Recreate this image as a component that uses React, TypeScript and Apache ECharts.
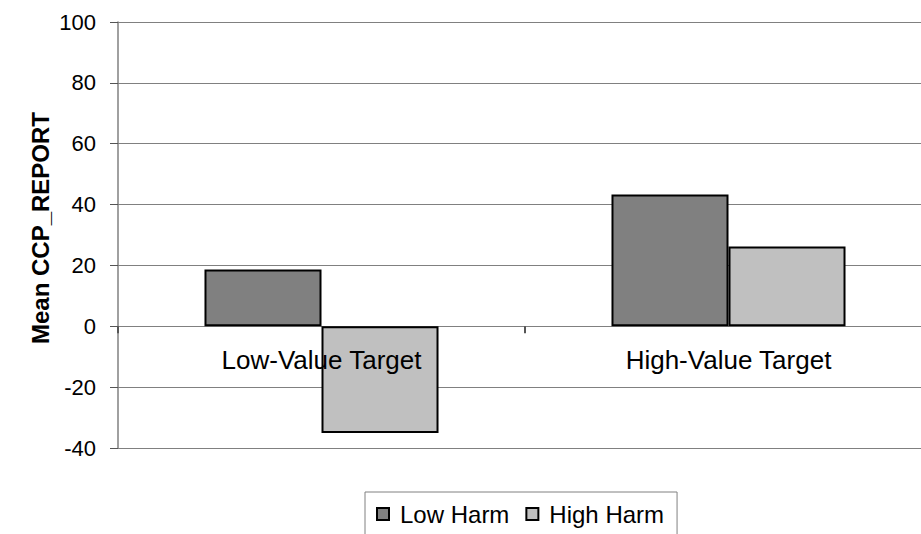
import React, { useEffect, useRef } from "react";
import * as echarts from "echarts";

const categories = ["Low-Value Target", "High-Value Target"];
const seriesNames = ["Low Harm", "High Harm"];
const lowHarm = [18.7, 43.3];
const highHarm = [-35.1, 26.2];
const yTicks = { min: -40, max: 100, interval: 20 };
const yTitle = "Mean CCP_REPORT";

const FONT = "'Liberation Sans', Arial, Helvetica, sans-serif";

export default function App() {
  const ref = useRef<HTMLDivElement>(null);

  useEffect(() => {
    if (!ref.current) return;
    const chart = echarts.init(ref.current, undefined, { renderer: "svg" });
    const barStyle = (color: string) => ({
      color,
      borderColor: "#000000",
      borderWidth: 2,
    });
    chart.setOption({
      animation: false,
      backgroundColor: "#ffffff",
      textStyle: { fontFamily: FONT, color: "#000000" },
      grid: {
        left: 118,
        right: -11,
        top: 22,
        bottom: 86,
        containLabel: false,
        outerBoundsMode: "none",
      },
      legend: {
        left: 365,
        top: 492,
        orient: "horizontal",
        selectedMode: false,
        icon: "rect",
        itemWidth: 12,
        itemHeight: 12,
        itemGap: 16,
        padding: [10, 13, 40, 11],
        borderColor: "#808080",
        borderWidth: 1,
        backgroundColor: "#ffffff",
        textStyle: {
          fontFamily: FONT,
          fontSize: 24,
          color: "#000000",
          padding: [0, 0, 0, 6],
        },
        data: seriesNames,
      },
      xAxis: {
        type: "category",
        data: categories,
        axisLine: { onZero: true, lineStyle: { color: "#808080", width: 1 } },
        axisTick: { show: true, length: 7, lineStyle: { color: "#555555", width: 2 } },
        axisLabel: { show: false },
        splitLine: { show: false },
      },
      yAxis: {
        type: "value",
        min: yTicks.min,
        max: yTicks.max,
        interval: yTicks.interval,
        name: yTitle,
        nameLocation: "middle",
        nameGap: 66,
        nameMoveOverlap: false,
        nameRotate: 90,
        nameTextStyle: {
          fontFamily: FONT,
          fontSize: 24,
          fontWeight: "bold",
          color: "#000000",
          padding: [0, 0, 0, 14],
        },
        axisLine: { show: true, lineStyle: { color: "#808080", width: 1.5 } },
        axisTick: { show: true, length: 8, lineStyle: { color: "#555555", width: 1 } },
        axisLabel: { fontFamily: FONT, fontSize: 22, color: "#000000", margin: 22 },
        splitLine: { show: true, lineStyle: { color: "#808080", width: 1 } },
      },
      series: [
        {
          name: seriesNames[0],
          type: "bar",
          data: lowHarm,
          barGap: "0%",
          barCategoryGap: "42.5%",
          itemStyle: barStyle("#808080"),
        },
        {
          name: seriesNames[1],
          type: "bar",
          data: highHarm,
          barGap: "0%",
          barCategoryGap: "42.5%",
          itemStyle: barStyle("#c0c0c0"),
        },
      ],
    });

    // Category names sit just under the zero line, above the bars, placed through the axes' own scales.
    const zeroY = chart.convertToPixel({ yAxisIndex: 0 }, 0) as number;
    chart.setOption({
      graphic: categories.map((name) => ({
        type: "text",
        x: chart.convertToPixel({ xAxisIndex: 0 }, name) as number,
        y: zeroY + 21,
        z: 100,
        zlevel: 0,
        style: {
          text: name,
          fontFamily: FONT,
          fontSize: 26,
          fill: "#000000",
          align: "center",
          verticalAlign: "top",
        },
      })),
    });
    return () => chart.dispose();
  }, []);

  return (
    <div
      ref={ref}
      style={{ position: "fixed", left: 0, top: 0, width: 921, height: 534 }}
    />
  );
}
